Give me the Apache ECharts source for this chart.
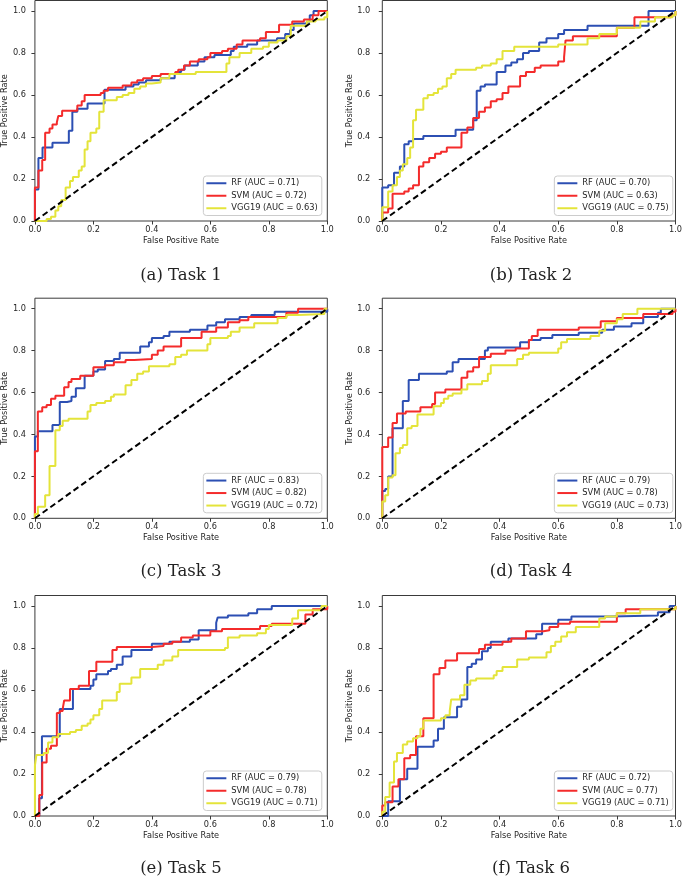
<!DOCTYPE html>
<html>
<head>
<meta charset="utf-8">
<script src="https://cdn.jsdelivr.net/npm/echarts@6/dist/echarts.min.js"></script>
<style>html,body{margin:0;padding:0;background:#fff}#c{width:685px;height:880px}</style>
</head>
<body>
<div id="c"></div>
<script>
// ---------- DATA ----------
const xTicks = [0, 0.2, 0.4, 0.6, 0.8, 1.0];
const yTicks = [0, 0.2, 0.4, 0.6, 0.8, 1.0];
const taskLabels = ['(a) Task 1', '(b) Task 2', '(c) Task 3', '(d) Task 4', '(e) Task 5', '(f) Task 6'];
const rfAuc  = ['0.71', '0.70', '0.83', '0.79', '0.79', '0.72'];
const svmAuc = ['0.72', '0.63', '0.82', '0.78', '0.78', '0.77'];
const vggAuc = ['0.63', '0.75', '0.72', '0.73', '0.71', '0.71'];
const chance = [[0, 0], [1, 1]];

// ROC staircase vertices [FPR, TPR]
const t1Rf = [[0,0],[0,0.15],[0.012,0.30],[0.026,0.35],[0.06,0.373],[0.116,0.43],[0.128,0.52],[0.145,0.535],[0.18,0.56],[0.238,0.625],[0.31,0.64],[0.337,0.65],[0.355,0.66],[0.38,0.67],[0.43,0.68],[0.478,0.70],[0.49,0.71],[0.5,0.72],[0.512,0.74],[0.557,0.76],[0.58,0.78],[0.614,0.79],[0.67,0.81],[0.68,0.83],[0.726,0.84],[0.76,0.86],[0.828,0.87],[0.856,0.89],[0.873,0.91],[0.885,0.94],[0.93,0.95],[0.94,0.98],[0.953,1.0],[1,1]];
const t1Svm = [[0,0],[0,0.16],[0.012,0.24],[0.025,0.29],[0.035,0.42],[0.05,0.44],[0.06,0.46],[0.075,0.47],[0.08,0.50],[0.093,0.525],[0.145,0.55],[0.16,0.57],[0.17,0.60],[0.225,0.61],[0.235,0.62],[0.25,0.635],[0.3,0.645],[0.33,0.66],[0.35,0.67],[0.37,0.68],[0.4,0.69],[0.43,0.70],[0.48,0.71],[0.49,0.72],[0.51,0.74],[0.53,0.76],[0.56,0.77],[0.59,0.78],[0.6,0.80],[0.64,0.81],[0.66,0.82],[0.69,0.84],[0.71,0.86],[0.77,0.87],[0.79,0.90],[0.835,0.935],[0.88,0.95],[0.92,0.96],[0.95,0.98],[0.97,1.0],[1,1]];
const t1Vgg = [[0,0],[0.04,0.01],[0.055,0.02],[0.07,0.05],[0.08,0.07],[0.09,0.10],[0.105,0.16],[0.12,0.19],[0.13,0.21],[0.15,0.24],[0.16,0.26],[0.17,0.34],[0.18,0.38],[0.19,0.42],[0.21,0.44],[0.22,0.52],[0.235,0.575],[0.28,0.59],[0.3,0.60],[0.32,0.61],[0.34,0.63],[0.36,0.64],[0.38,0.655],[0.4,0.66],[0.43,0.68],[0.46,0.70],[0.55,0.71],[0.655,0.75],[0.665,0.78],[0.70,0.80],[0.74,0.82],[0.78,0.83],[0.80,0.85],[0.83,0.86],[0.86,0.88],[0.875,0.93],[0.93,0.95],[0.96,0.96],[0.99,0.97],[1,1]];

const t2Rf = [[0,0],[0,0.16],[0.02,0.17],[0.04,0.23],[0.06,0.26],[0.075,0.365],[0.09,0.38],[0.105,0.39],[0.14,0.405],[0.25,0.435],[0.31,0.48],[0.322,0.62],[0.335,0.64],[0.35,0.65],[0.39,0.71],[0.42,0.74],[0.44,0.755],[0.46,0.77],[0.48,0.80],[0.5,0.81],[0.535,0.85],[0.56,0.87],[0.6,0.89],[0.62,0.91],[0.7,0.93],[0.908,1.0],[1,1]];
const t2Svm = [[0,0],[0,0.04],[0.02,0.06],[0.035,0.13],[0.075,0.14],[0.09,0.155],[0.105,0.17],[0.125,0.26],[0.14,0.28],[0.16,0.30],[0.18,0.32],[0.2,0.33],[0.22,0.35],[0.27,0.42],[0.29,0.445],[0.31,0.49],[0.33,0.52],[0.35,0.54],[0.37,0.57],[0.39,0.58],[0.41,0.61],[0.43,0.64],[0.47,0.69],[0.49,0.71],[0.52,0.73],[0.54,0.74],[0.6,0.76],[0.62,0.78],[0.625,0.86],[0.65,0.88],[0.8,0.92],[0.86,0.97],[0.985,0.98],[1,1]];
const t2Vgg = [[0,0],[0,0.065],[0.02,0.14],[0.035,0.17],[0.05,0.21],[0.06,0.24],[0.07,0.27],[0.085,0.30],[0.095,0.35],[0.105,0.48],[0.115,0.53],[0.14,0.585],[0.155,0.60],[0.175,0.61],[0.19,0.63],[0.205,0.64],[0.22,0.68],[0.235,0.70],[0.25,0.72],[0.32,0.73],[0.34,0.74],[0.37,0.75],[0.39,0.77],[0.41,0.81],[0.45,0.83],[0.6,0.84],[0.7,0.87],[0.74,0.89],[0.8,0.92],[0.88,0.95],[0.93,0.97],[0.99,0.98],[1,1]];

const t3Rf = [[0,0],[0,0.39],[0.01,0.415],[0.06,0.445],[0.085,0.555],[0.11,0.56],[0.125,0.58],[0.14,0.62],[0.17,0.68],[0.2,0.70],[0.215,0.71],[0.24,0.75],[0.27,0.76],[0.29,0.79],[0.36,0.82],[0.39,0.84],[0.4,0.86],[0.44,0.87],[0.46,0.89],[0.53,0.90],[0.59,0.92],[0.62,0.935],[0.65,0.95],[0.7,0.96],[0.74,0.97],[0.82,0.985],[1,1]];
const t3Svm = [[0,0],[0,0.32],[0.01,0.51],[0.025,0.53],[0.04,0.54],[0.055,0.57],[0.07,0.585],[0.1,0.625],[0.115,0.65],[0.125,0.665],[0.155,0.68],[0.2,0.72],[0.24,0.73],[0.27,0.745],[0.31,0.755],[0.34,0.76],[0.4,0.78],[0.42,0.80],[0.44,0.82],[0.5,0.86],[0.57,0.89],[0.62,0.91],[0.66,0.935],[0.7,0.945],[0.73,0.96],[0.86,0.98],[0.9,1.0],[1,1]];
const t3Vgg = [[0,0],[0,0.02],[0.01,0.055],[0.035,0.11],[0.05,0.25],[0.07,0.42],[0.085,0.44],[0.095,0.465],[0.115,0.475],[0.18,0.51],[0.19,0.54],[0.21,0.55],[0.24,0.56],[0.26,0.58],[0.27,0.59],[0.31,0.635],[0.33,0.66],[0.35,0.69],[0.37,0.70],[0.39,0.725],[0.46,0.735],[0.48,0.77],[0.5,0.78],[0.52,0.80],[0.59,0.83],[0.6,0.86],[0.66,0.87],[0.67,0.89],[0.7,0.91],[0.75,0.93],[0.83,0.955],[0.86,0.97],[0.9,0.975],[0.99,1.0],[1,1]];

const t4Rf = [[0,0],[0,0.13],[0.01,0.14],[0.02,0.20],[0.035,0.43],[0.07,0.56],[0.09,0.66],[0.125,0.69],[0.22,0.70],[0.24,0.745],[0.26,0.76],[0.35,0.80],[0.36,0.815],[0.47,0.84],[0.5,0.85],[0.54,0.86],[0.58,0.875],[0.67,0.885],[0.75,0.90],[0.79,0.915],[0.85,0.93],[0.89,0.96],[0.94,0.98],[0.95,1.0],[1,1]];
const t4Svm = [[0,0],[0,0.34],[0.02,0.385],[0.035,0.455],[0.05,0.50],[0.08,0.51],[0.13,0.53],[0.17,0.545],[0.18,0.60],[0.215,0.615],[0.27,0.67],[0.29,0.70],[0.31,0.72],[0.33,0.77],[0.37,0.785],[0.42,0.80],[0.455,0.81],[0.5,0.85],[0.51,0.87],[0.53,0.90],[0.67,0.91],[0.745,0.94],[0.8,0.955],[0.89,0.975],[0.99,0.985],[1,1]];
const t4Vgg = [[0,0],[0,0.08],[0.01,0.11],[0.02,0.195],[0.035,0.205],[0.045,0.31],[0.06,0.335],[0.07,0.35],[0.085,0.43],[0.1,0.44],[0.12,0.495],[0.175,0.535],[0.2,0.55],[0.21,0.57],[0.225,0.585],[0.24,0.595],[0.27,0.615],[0.29,0.64],[0.34,0.655],[0.36,0.69],[0.37,0.73],[0.46,0.76],[0.48,0.78],[0.5,0.79],[0.6,0.81],[0.61,0.84],[0.63,0.855],[0.71,0.87],[0.74,0.895],[0.76,0.93],[0.8,0.95],[0.82,0.975],[0.87,1.0],[1,1]];

const t5Rf = [[0,0],[0.015,0.085],[0.024,0.38],[0.085,0.51],[0.13,0.605],[0.19,0.62],[0.2,0.65],[0.21,0.675],[0.25,0.69],[0.26,0.70],[0.28,0.72],[0.3,0.76],[0.33,0.79],[0.4,0.82],[0.46,0.83],[0.53,0.84],[0.56,0.885],[0.62,0.92],[0.625,0.945],[0.66,0.955],[0.73,0.965],[0.76,0.985],[0.81,1.0],[1,1]];
const t5Svm = [[0,0],[0.015,0.1],[0.025,0.255],[0.04,0.32],[0.055,0.335],[0.075,0.49],[0.085,0.50],[0.095,0.51],[0.1,0.55],[0.12,0.605],[0.15,0.62],[0.185,0.69],[0.21,0.735],[0.265,0.79],[0.28,0.805],[0.4,0.81],[0.44,0.82],[0.47,0.83],[0.5,0.85],[0.54,0.86],[0.6,0.88],[0.64,0.89],[0.77,0.905],[0.81,0.915],[0.925,0.96],[0.95,0.985],[1,1]];
const t5Vgg = [[0,0],[0,0.24],[0.005,0.29],[0.03,0.30],[0.045,0.35],[0.06,0.375],[0.08,0.39],[0.12,0.40],[0.14,0.41],[0.16,0.43],[0.18,0.44],[0.19,0.46],[0.2,0.48],[0.22,0.51],[0.23,0.55],[0.28,0.59],[0.29,0.63],[0.33,0.66],[0.36,0.70],[0.42,0.72],[0.44,0.74],[0.47,0.76],[0.49,0.79],[0.65,0.80],[0.66,0.85],[0.7,0.86],[0.76,0.87],[0.79,0.89],[0.8,0.91],[0.88,0.94],[0.9,0.98],[0.98,1.0],[1,1]];

const t6Rf = [[0,0],[0.02,0.07],[0.06,0.175],[0.085,0.225],[0.12,0.33],[0.175,0.36],[0.19,0.415],[0.21,0.47],[0.255,0.52],[0.27,0.555],[0.29,0.71],[0.305,0.725],[0.32,0.745],[0.34,0.785],[0.36,0.80],[0.37,0.83],[0.43,0.845],[0.525,0.865],[0.545,0.915],[0.6,0.935],[0.645,0.95],[0.78,0.955],[0.94,0.97],[0.98,1.0],[1,1]];
const t6Svm = [[0,0],[0,0.05],[0.01,0.065],[0.035,0.14],[0.055,0.175],[0.075,0.275],[0.095,0.29],[0.115,0.38],[0.14,0.465],[0.175,0.675],[0.195,0.705],[0.215,0.74],[0.255,0.775],[0.33,0.795],[0.35,0.815],[0.41,0.83],[0.44,0.845],[0.49,0.88],[0.55,0.885],[0.57,0.90],[0.6,0.915],[0.64,0.925],[0.8,0.965],[0.83,0.985],[1,1]];
const t6Vgg = [[0,0],[0,0.02],[0.01,0.09],[0.025,0.16],[0.04,0.26],[0.05,0.30],[0.07,0.34],[0.085,0.355],[0.105,0.37],[0.12,0.38],[0.13,0.415],[0.14,0.455],[0.2,0.465],[0.215,0.48],[0.23,0.50],[0.235,0.555],[0.265,0.575],[0.28,0.625],[0.3,0.645],[0.32,0.655],[0.38,0.67],[0.39,0.69],[0.41,0.71],[0.46,0.745],[0.5,0.755],[0.56,0.78],[0.575,0.81],[0.59,0.83],[0.61,0.855],[0.63,0.875],[0.66,0.90],[0.74,0.94],[0.76,0.95],[0.8,0.965],[0.88,0.985],[1,1]];

// ---------- LAYOUT / STYLE ----------
const rfCurves = [t1Rf, t2Rf, t3Rf, t4Rf, t5Rf, t6Rf];
const svmCurves = [t1Svm, t2Svm, t3Svm, t4Svm, t5Svm, t6Svm];
const vggCurves = [t1Vgg, t2Vgg, t3Vgg, t4Vgg, t5Vgg, t6Vgg];

const W = 685, H = 880;
const colLeft = [32.3, 382.3], colWidth = [295, 296];
const rowTop = [0.5, 298.2, 595.5], rowHeight = [220.5, 220.1, 220.5];
const capX = [181, 531], capY = [276, 572, 869];
const yLabelMargin = [9, 12];
const COLORS = { rf: '#2c4fb3', svm: '#f42b2b', vgg: '#e4e43a' };
const SANS = 'DejaVu Sans';
const TXT = '#262626';
const FS = 8.2;

const option = {
  animation: false,
  backgroundColor: '#ffffff',
  grid: [], xAxis: [], yAxis: [], series: [], legend: [], graphic: []
};

for (let i = 0; i < 6; i++) {
  const c = i % 2, r = Math.floor(i / 2);
  const L = colLeft[c], T = rowTop[r], Wd = colWidth[c], Ht = rowHeight[r];
  option.grid.push({
    left: L, top: T, width: Wd, height: Ht,
    show: true, borderColor: '#3a3a3a', borderWidth: 1, backgroundColor: 'transparent'
  });
  option.xAxis.push({
    type: 'value', gridIndex: i, min: 0, max: 1, interval: 0.2,
    name: 'False Positive Rate', nameLocation: 'middle', nameGap: 16,
    nameTextStyle: { fontFamily: SANS, fontSize: FS, color: TXT },
    axisLine: { show: false },
    axisTick: { show: true, length: 3.5, lineStyle: { color: '#3a3a3a', width: 1 } },
    axisLabel: { fontFamily: SANS, fontSize: FS, color: TXT, margin: 5,
                 formatter: v => v.toFixed(1), customValues: xTicks },
    splitLine: { show: false }
  });
  option.yAxis.push({
    type: 'value', gridIndex: i, min: 0, max: 1.05, interval: 0.2,
    name: 'True Positive Rate', nameLocation: 'middle', nameGap: 22, nameRotate: 90,
    nameTextStyle: { fontFamily: SANS, fontSize: FS, color: TXT },
    axisLine: { show: false },
    axisTick: { show: true, length: 3.5, lineStyle: { color: '#3a3a3a', width: 1 }, customValues: yTicks },
    axisLabel: { fontFamily: SANS, fontSize: FS, color: TXT, margin: yLabelMargin[c],
                 formatter: v => v.toFixed(1), customValues: yTicks },
    splitLine: { show: false }
  });
  const names = ['RF (AUC = ' + rfAuc[i] + ')', 'SVM (AUC = ' + svmAuc[i] + ')', 'VGG19 (AUC = ' + vggAuc[i] + ')'];
  const curves = [rfCurves[i], svmCurves[i], vggCurves[i]];
  const cols = [COLORS.rf, COLORS.svm, COLORS.vgg];
  for (let k = 0; k < 3; k++) {
    option.series.push({
      type: 'line', name: names[k], xAxisIndex: i, yAxisIndex: i,
      data: curves[k], step: 'end', showSymbol: false, symbol: 'none', clip: false,
      color: cols[k], lineStyle: { color: cols[k], width: 2 }, z: 2 + k,
      emphasis: { disabled: true }
    });
  }
  option.series.push({
    type: 'line', name: 'chance', xAxisIndex: i, yAxisIndex: i, data: chance,
    showSymbol: false, symbol: 'none', clip: false, z: 6,
    lineStyle: { color: '#000', width: 2, type: [6, 3.5] }, emphasis: { disabled: true }
  });
  option.legend.push({
    orient: 'vertical',
    right: W - (L + Wd) + 5.5,
    bottom: H - (T + Ht) + 5.5,
    data: names.map(n => ({ name: n, icon: 'rect' })),
    itemWidth: 20, itemHeight: 2, itemGap: 2,
    padding: [2, 4, 2, 3],
    borderColor: '#cccccc', borderWidth: 1, borderRadius: 3,
    backgroundColor: 'rgba(255,255,255,0.8)',
    selectedMode: false,
    textStyle: { fontFamily: SANS, fontSize: 8.3, color: TXT, lineHeight: 10.5 }
  });
  option.graphic.push({
    type: 'text', x: capX[c], y: capY[r], silent: true,
    style: { text: taskLabels[i], fontFamily: 'DejaVu Serif', fontSize: 16.5,
             fill: '#222', align: 'center', verticalAlign: 'middle' }
  });
}

const chart = echarts.init(document.getElementById('c'), null, { renderer: 'canvas', width: W, height: H });
chart.setOption(option);
</script>
</body>
</html>
